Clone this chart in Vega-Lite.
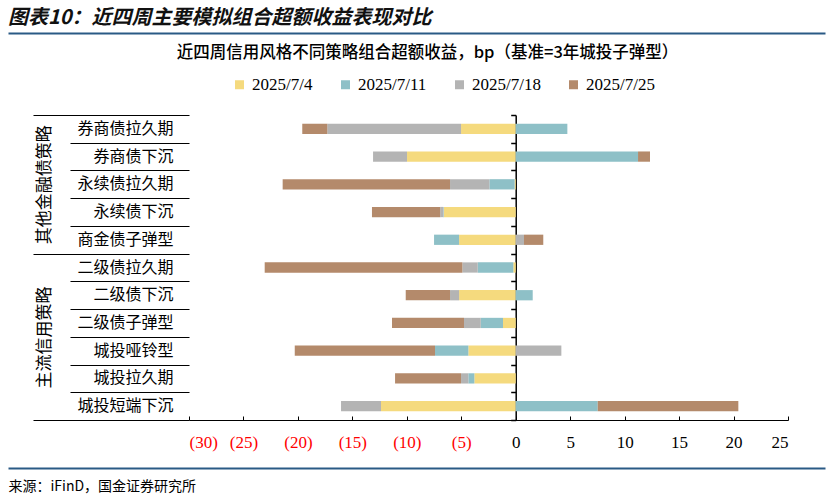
{
  "$schema": "https://vega.github.io/schema/vega-lite/v6.json",
  "width": 599,
  "height": 305,
  "autosize": {"type": "none"},
  "padding": {"left": 189, "top": 115, "right": 43, "bottom": 79},
  "background": "white",
  "title": {
    "text": "图表10：近四周主要模拟组合超额收益表现对比",
    "anchor": "start",
    "frame": "group",
    "dx": -181,
    "offset": 4,
    "font": "Noto Sans CJK SC",
    "fontSize": 20,
    "fontWeight": "bold",
    "fontStyle": "italic",
    "color": "#111111"
  },
  "config": {
    "view": {"stroke": null},
    "axis": {"grid": false}
  },
  "data": {
    "values": [
      {"strategy": "券商债拉久期", "date": "2025/7/4", "k": 1, "value": -5.02},
      {"strategy": "券商债拉久期", "date": "2025/7/11", "k": 2, "value": 4.74},
      {"strategy": "券商债拉久期", "date": "2025/7/18", "k": 3, "value": -12.28},
      {"strategy": "券商债拉久期", "date": "2025/7/25", "k": 4, "value": -2.3},
      {"strategy": "券商债下沉", "date": "2025/7/4", "k": 1, "value": -9.98},
      {"strategy": "券商债下沉", "date": "2025/7/11", "k": 2, "value": 11.23},
      {"strategy": "券商债下沉", "date": "2025/7/18", "k": 3, "value": -3.12},
      {"strategy": "券商债下沉", "date": "2025/7/25", "k": 4, "value": 1.1},
      {"strategy": "永续债拉久期", "date": "2025/7/4", "k": 1, "value": -0.1},
      {"strategy": "永续债拉久期", "date": "2025/7/11", "k": 2, "value": -2.32},
      {"strategy": "永续债拉久期", "date": "2025/7/18", "k": 3, "value": -3.61},
      {"strategy": "永续债拉久期", "date": "2025/7/25", "k": 4, "value": -15.37},
      {"strategy": "永续债下沉", "date": "2025/7/4", "k": 1, "value": -6.6},
      {"strategy": "永续债下沉", "date": "2025/7/11", "k": 2, "value": -0.05},
      {"strategy": "永续债下沉", "date": "2025/7/18", "k": 3, "value": -0.28},
      {"strategy": "永续债下沉", "date": "2025/7/25", "k": 4, "value": -6.27},
      {"strategy": "商金债子弹型", "date": "2025/7/4", "k": 1, "value": -5.2},
      {"strategy": "商金债子弹型", "date": "2025/7/11", "k": 2, "value": -2.3},
      {"strategy": "商金债子弹型", "date": "2025/7/18", "k": 3, "value": 0.76},
      {"strategy": "商金债子弹型", "date": "2025/7/25", "k": 4, "value": 1.77},
      {"strategy": "二级债拉久期", "date": "2025/7/4", "k": 1, "value": -0.22},
      {"strategy": "二级债拉久期", "date": "2025/7/11", "k": 2, "value": -3.27},
      {"strategy": "二级债拉久期", "date": "2025/7/18", "k": 3, "value": -1.41},
      {"strategy": "二级债拉久期", "date": "2025/7/25", "k": 4, "value": -18.15},
      {"strategy": "二级债下沉", "date": "2025/7/4", "k": 1, "value": -5.2},
      {"strategy": "二级债下沉", "date": "2025/7/11", "k": 2, "value": 1.56},
      {"strategy": "二级债下沉", "date": "2025/7/18", "k": 3, "value": -0.83},
      {"strategy": "二级债下沉", "date": "2025/7/25", "k": 4, "value": -4.07},
      {"strategy": "二级债子弹型", "date": "2025/7/4", "k": 1, "value": -1.17},
      {"strategy": "二级债子弹型", "date": "2025/7/11", "k": 2, "value": -2.04},
      {"strategy": "二级债子弹型", "date": "2025/7/18", "k": 3, "value": -1.54},
      {"strategy": "二级债子弹型", "date": "2025/7/25", "k": 4, "value": -6.61},
      {"strategy": "城投哑铃型", "date": "2025/7/4", "k": 1, "value": -4.35},
      {"strategy": "城投哑铃型", "date": "2025/7/11", "k": 2, "value": -3.06},
      {"strategy": "城投哑铃型", "date": "2025/7/18", "k": 3, "value": 4.19},
      {"strategy": "城投哑铃型", "date": "2025/7/25", "k": 4, "value": -12.88},
      {"strategy": "城投拉久期", "date": "2025/7/4", "k": 1, "value": -3.8},
      {"strategy": "城投拉久期", "date": "2025/7/11", "k": 2, "value": -0.55},
      {"strategy": "城投拉久期", "date": "2025/7/18", "k": 3, "value": -0.67},
      {"strategy": "城投拉久期", "date": "2025/7/25", "k": 4, "value": -6.06},
      {"strategy": "城投短端下沉", "date": "2025/7/4", "k": 1, "value": -12.37},
      {"strategy": "城投短端下沉", "date": "2025/7/11", "k": 2, "value": 7.53},
      {"strategy": "城投短端下沉", "date": "2025/7/18", "k": 3, "value": -3.67},
      {"strategy": "城投短端下沉", "date": "2025/7/25", "k": 4, "value": 12.91}
    ]
  },
  "resolve": {"axis": {"y": "independent"}},
  "layer": [
    {
      "mark": {"type": "bar", "height": {"band": 0.37}},
      "encoding": {
        "y": {
          "field": "strategy", "type": "nominal",
          "sort": ["券商债拉久期", "券商债下沉", "永续债拉久期", "永续债下沉", "商金债子弹型", "二级债拉久期", "二级债下沉", "二级债子弹型", "城投哑铃型", "城投拉久期", "城投短端下沉"],
          "scale": {"paddingInner": 0, "paddingOuter": 0},
          "axis": {
            "orient": "left", "title": null, "ticks": false, "domain": false,
            "labelPadding": 16, "labelFont": "Noto Sans CJK SC", "labelFontSize": 16,
            "labelColor": "#000000", "labelAlign": "right"
          }
        },
        "x": {
          "field": "value", "type": "quantitative", "aggregate": "sum", "stack": "zero",
          "scale": {"domain": [-30, 25], "nice": false, "zero": false},
          "axis": {
            "values": [-30, -25, -20, -15, -10, -5, 0, 5, 10, 15, 20, 25],
            "labelExpr": "datum.value < 0 ? '(' + abs(datum.value) + ')' : '' + datum.value",
            "labelColor": {"condition": {"test": "datum.value < 0", "value": "#FF0000"}, "value": "#000000"},
            "labelFont": "Liberation Serif", "labelFontSize": 17, "labelPadding": 18,
            "domainColor": "#000000", "domainWidth": 1.2,
            "tickColor": "#000000", "tickSize": -4, "tickWidth": 1,
            "title": "来源：iFinD，国金证券研究所",
            "titleX": -181, "titleY": 66, "titleAlign": "left", "titleBaseline": "middle",
            "titleFont": "Noto Sans CJK SC", "titleFontSize": 14, "titleFontWeight": "normal", "titleColor": "#000000"
          }
        },
        "color": {
          "field": "date", "type": "nominal",
          "scale": {"domain": ["2025/7/4", "2025/7/11", "2025/7/18", "2025/7/25"], "range": ["#F5DA7E", "#8EC0C7", "#B4B4B4", "#B48A6B"]},
          "legend": {
            "orient": "none", "legendX": 42, "legendY": -39, "direction": "horizontal",
            "title": null, "padding": 0, "symbolType": "square", "symbolSize": 81, "symbolStrokeWidth": 0,
            "labelFont": "Liberation Serif", "labelFontSize": 17, "labelColor": "#000000",
            "labelOffset": 4, "columnPadding": 24
          }
        },
        "order": {"field": "k", "type": "quantitative"}
      }
    },
    {
      "mark": {"type": "point", "opacity": 0},
      "encoding": {
        "y": {
          "field": "strategy", "type": "nominal",
          "sort": ["券商债拉久期", "券商债下沉", "永续债拉久期", "永续债下沉", "商金债子弹型", "二级债拉久期", "二级债下沉", "二级债子弹型", "城投哑铃型", "城投拉久期", "城投短端下沉"],
          "scale": {"paddingInner": 0, "paddingOuter": 0},
          "axis": {
            "orient": "left", "domain": false, "tickBand": "extent",
            "tickColor": "#000000", "tickWidth": 1.2,
            "tickSize": {"condition": {"test": "datum.extra || datum.value == '商金债子弹型' || datum.value == '城投短端下沉'", "value": 156}, "value": 119},
            "labelExpr": "datum.value == '永续债拉久期' ? '其他金融债策略' : (datum.value == '二级债子弹型' ? '主流信用策略' : '')",
            "labelAngle": -90, "labelAlign": "center", "labelBaseline": "middle",
            "labelOffset": {"condition": {"test": "datum.value == '二级债子弹型'", "value": 14}, "value": 0},
            "labelPadding": 26, "labelFont": "Noto Sans CJK SC", "labelFontSize": 17, "labelColor": "#000000",
            "title": "近四周信用风格不同策略组合超额收益，bp（基准=3年城投子弹型）",
            "titleAngle": 0, "titleX": 238, "titleY": -63, "titleAlign": "center", "titleBaseline": "middle",
            "titleFont": "Noto Sans CJK SC", "titleFontSize": 16.5, "titleFontWeight": 500, "titleColor": "#000000"
          }
        }
      }
    },
    {
      "mark": {"type": "point", "opacity": 0},
      "encoding": {
        "y": {
          "field": "strategy", "type": "nominal",
          "sort": ["券商债拉久期", "券商债下沉", "永续债拉久期", "永续债下沉", "商金债子弹型", "二级债拉久期", "二级债下沉", "二级债子弹型", "城投哑铃型", "城投拉久期", "城投短端下沉"],
          "scale": {"paddingInner": 0, "paddingOuter": 0},
          "axis": {
            "orient": "left", "offset": -326.7, "title": null, "labels": false,
            "tickBand": "extent", "tickSize": 5, "tickColor": "#000000", "tickWidth": 1.5,
            "domainColor": "#000000", "domainWidth": 1.5
          }
        }
      }
    },
    {
      "mark": {"type": "point", "opacity": 0},
      "encoding": {
        "y": {
          "field": "strategy", "type": "nominal",
          "sort": ["券商债拉久期", "券商债下沉", "永续债拉久期", "永续债下沉", "商金债子弹型", "二级债拉久期", "二级债下沉", "二级债子弹型", "城投哑铃型", "城投拉久期", "城投短端下沉"],
          "scale": {"paddingInner": 0, "paddingOuter": 0},
          "axis": {
            "orient": "right", "offset": 37, "title": null, "labels": false, "domain": false,
            "values": ["券商债拉久期"], "bandPosition": 0, "tickOffset": -82,
            "tickSize": -817, "tickColor": "#2A5A85", "tickWidth": 2
          }
        }
      }
    },
    {
      "mark": {"type": "point", "opacity": 0},
      "encoding": {
        "y": {
          "field": "strategy", "type": "nominal",
          "sort": ["券商债拉久期", "券商债下沉", "永续债拉久期", "永续债下沉", "商金债子弹型", "二级债拉久期", "二级债下沉", "二级债子弹型", "城投哑铃型", "城投拉久期", "城投短端下沉"],
          "scale": {"paddingInner": 0, "paddingOuter": 0},
          "axis": {
            "orient": "right", "offset": 37, "title": null, "labels": false, "domain": false,
            "values": ["城投短端下沉"], "bandPosition": 1, "tickOffset": 48,
            "tickSize": -817, "tickColor": "#2A5A85", "tickWidth": 2
          }
        }
      }
    }
  ]
}
